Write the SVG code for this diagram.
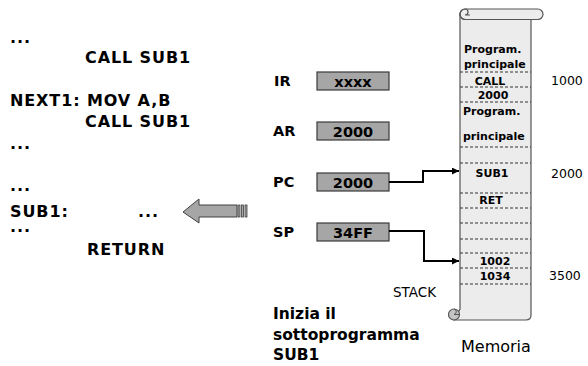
<svg xmlns="http://www.w3.org/2000/svg" width="588" height="366" viewBox="0 0 588 366">
<style>
.code{font-family:"DejaVu Sans",Verdana,sans-serif;font-weight:bold;font-size:16px;letter-spacing:0.9px;fill:#000}
.reg{font-family:"DejaVu Sans",Verdana,sans-serif;font-weight:bold;font-size:14.5px;fill:#000}
.box{fill:#a6a6a6;stroke:#3a3a3a;stroke-width:1.2}
.bt{font-family:"DejaVu Sans",Verdana,sans-serif;font-weight:bold;font-size:14.5px;fill:#000;text-anchor:middle}
.mt{font-family:"DejaVu Sans",Verdana,sans-serif;font-weight:bold;font-size:11px;fill:#000}
.mc{text-anchor:middle}
.dash{stroke:#333;stroke-width:1;stroke-dasharray:3,2;fill:none}
.addr{font-family:"DejaVu Sans",Verdana,sans-serif;font-size:12.5px;fill:#000}
.conn{fill:none;stroke:#000;stroke-width:2}
.sub{font-family:"DejaVu Sans",Verdana,sans-serif;font-weight:bold;font-size:15.5px;fill:#000}
</style>
<defs>
<marker id="ah" markerUnits="userSpaceOnUse" viewBox="0 0 10 10" refX="10" refY="5" markerWidth="9" markerHeight="7" orient="auto">
<path d="M0,0 L10,5 L0,10 Z" fill="#000"/>
</marker>
</defs>
<rect width="588" height="366" fill="#fff"/>

<g id="code">
<text class="code" x="10" y="43">...</text>
<text class="code" x="85" y="63">CALL SUB1</text>
<text class="code" x="10" y="106">NEXT1: MOV A,B</text>
<text class="code" x="85" y="127">CALL SUB1</text>
<text class="code" x="10" y="149">...</text>
<text class="code" x="10" y="191">...</text>
<text class="code" x="10" y="217">SUB1:</text>
<text class="code" x="138" y="217">...</text>
<text class="code" x="10" y="232">...</text>
<text class="code" x="87" y="255">RETURN</text>
</g>

<g id="block-arrow">
<path d="M183,212 L199,199 L199,205 L237,205 L237,217 L199,217 L199,223 Z" fill="#a6a6a6" stroke="#404040" stroke-width="1"/>
<rect x="238" y="205" width="2" height="12" fill="#a6a6a6" stroke="#404040" stroke-width="0.8"/>
<rect x="241.5" y="205" width="2" height="12" fill="#a6a6a6" stroke="#404040" stroke-width="0.8"/>
<rect x="245" y="205" width="2" height="12" fill="#a6a6a6" stroke="#404040" stroke-width="0.8"/>
</g>

<g id="IR">
<text class="reg" x="274" y="86">IR</text>
<rect class="box" x="317" y="72" width="72" height="18"/>
<text class="bt" x="353" y="87">xxxx</text>
</g>
<g id="AR">
<text class="reg" x="273" y="136">AR</text>
<rect class="box" x="317" y="122" width="72" height="18"/>
<text class="bt" x="353" y="137">2000</text>
</g>
<g id="PC">
<text class="reg" x="273" y="187">PC</text>
<rect class="box" x="317" y="173" width="72" height="18"/>
<text class="bt" x="353" y="188">2000</text>
</g>
<g id="SP">
<text class="reg" x="273" y="237">SP</text>
<rect class="box" x="317" y="223" width="72" height="18"/>
<text class="bt" x="353" y="238">34FF</text>
</g>

<g id="memory">
<path d="M460,14 L460,309 L454,320 L526,320 Q531,320 531,315 L531,14 Z" fill="#ececec" stroke="#555" stroke-width="1.2"/>
<rect x="460" y="9" width="83" height="10.5" rx="5.25" fill="#ececec" stroke="#555" stroke-width="1.2"/>
<path d="M465,19.5 A5,5 0 0 1 460,14.25 A5,5 0 0 1 465,9 A3,3 0 0 1 465,15 L470,15" fill="none" stroke="#555" stroke-width="1.2"/>
<circle cx="454" cy="314.5" r="5.5" fill="#c4c4c4" stroke="#555" stroke-width="1.2"/>
<path d="M454,314.5 A2.8,2.8 0 0 0 454,309 M454,314.5 L459,314.5" fill="none" stroke="#555" stroke-width="1"/>
<line class="dash" x1="460" y1="72" x2="531" y2="72"/>
<line class="dash" x1="460" y1="87" x2="531" y2="87"/>
<line class="dash" x1="460" y1="102" x2="531" y2="102"/>
<line class="dash" x1="460" y1="147" x2="531" y2="147"/>
<line class="dash" x1="460" y1="163" x2="531" y2="163"/>
<line class="dash" x1="460" y1="193" x2="531" y2="193"/>
<line class="dash" x1="460" y1="208" x2="531" y2="208"/>
<line class="dash" x1="460" y1="223" x2="531" y2="223"/>
<line class="dash" x1="460" y1="239" x2="531" y2="239"/>
<line class="dash" x1="460" y1="253" x2="531" y2="253"/>
<line class="dash" x1="460" y1="268" x2="531" y2="268"/>
<line class="dash" x1="460" y1="284" x2="531" y2="284"/>
<text class="mt" x="464" y="53">Program.</text>
<text class="mt" x="464" y="68">principale</text>
<text class="mt mc" x="490" y="85">CALL</text>
<text class="mt mc" x="493" y="99">2000</text>
<text class="mt" x="463" y="115">Program.</text>
<text class="mt" x="463" y="140">principale</text>
<text class="mt mc" x="492" y="177">SUB1</text>
<text class="mt mc" x="491" y="204">RET</text>
<text class="mt mc" x="495" y="265">1002</text>
<text class="mt mc" x="495" y="280">1034</text>
</g>

<g id="addresses">
<text class="addr" x="551" y="85">1000</text>
<text class="addr" x="551" y="178">2000</text>
<text class="addr" x="549" y="280">3500</text>
</g>

<g id="labels">
<text x="393" y="297" font-family="DejaVu Sans,Verdana,sans-serif" font-size="13.5">STACK</text>
<text x="461" y="352" font-family="DejaVu Sans,Verdana,sans-serif" font-size="16">Memoria</text>
<text class="sub" x="273" y="319">Inizia il</text>
<text class="sub" x="273" y="340">sottoprogramma</text>
<text class="sub" x="273" y="360">SUB1</text>
</g>

<g id="connectors">
<path class="conn" d="M389,182 H423 V171 H459" marker-end="url(#ah)"/>
<path class="conn" d="M389,231 H424 V261 H459" marker-end="url(#ah)"/>
</g>
</svg>
